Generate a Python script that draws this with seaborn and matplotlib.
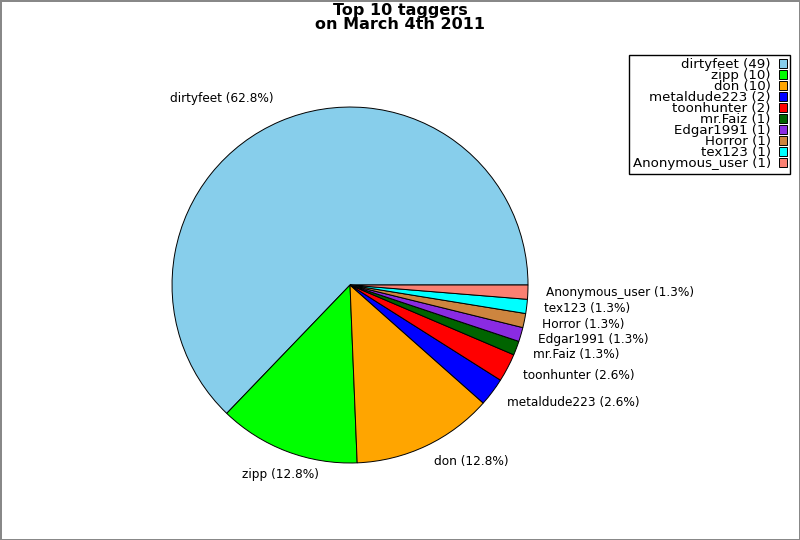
import matplotlib
matplotlib.use('Agg')
import matplotlib.pyplot as plt
import seaborn as sns

sns.set_style('white')
plt.rcParams['font.family'] = ['DejaVu Sans']
plt.rcParams['text.color'] = 'black'

taggers = ["dirtyfeet", "zipp", "don", "metaldude223", "toonhunter",
           "mr.Faiz", "Edgar1991", "Horror", "tex123", "Anonymous_user"]
counts = [49, 10, 10, 2, 2, 1, 1, 1, 1, 1]
colors = ["#87ceeb", "#00ff00", "#ffa500", "#0000ff", "#ff0000",
          "#006400", "#8a2be2", "#cd853f", "#00ffff", "#fa8072"]

total = sum(counts)
pie_labels = [f"{t} ({c / total * 100:.1f}%)" for t, c in zip(taggers, counts)]
legend_labels = [f"{t} ({c})" for t, c in zip(taggers, counts)]

fig = plt.figure(figsize=(8, 5.4), dpi=100)
fig.patch.set_edgecolor('#888888')
fig.patch.set_linewidth(2)
ax = fig.add_axes([0.1594, 0.0602, 0.55625, 0.824])

wedges, texts = ax.pie(counts, labels=pie_labels, colors=colors, startangle=0,
                       counterclock=True, labeldistance=1.1,
                       wedgeprops=dict(edgecolor='black', linewidth=0.7),
                       textprops=dict(fontsize=8.7, color='black'))
ax.set_xlim(-1.25, 1.25)
ax.set_ylim(-1.25, 1.25)
ax.set_aspect('equal')

texts[0].set_va('bottom')
texts[1].set_ha('center')
texts[1].set_va('top')

fig.text(0.5, 0.995, "Top 10 taggers\non March 4th 2011", ha='center', va='top',
         fontsize=11.5, fontweight='bold', linespacing=0.95, color='black')

leg = fig.legend(wedges, legend_labels, loc='upper right',
                 bbox_to_anchor=(790 / 800, 1 - 55 / 540), borderaxespad=0,
                 markerfirst=False, fontsize=9.6, labelspacing=-0.15,
                 handlelength=0.6, handleheight=0.6, handletextpad=0.6,
                 fancybox=False, framealpha=1, edgecolor='black',
                 borderpad=0.25)
leg.get_frame().set_linewidth(1)
for t in leg.get_texts():
    t.set_color('black')

fig.savefig('out.png', dpi=100)
